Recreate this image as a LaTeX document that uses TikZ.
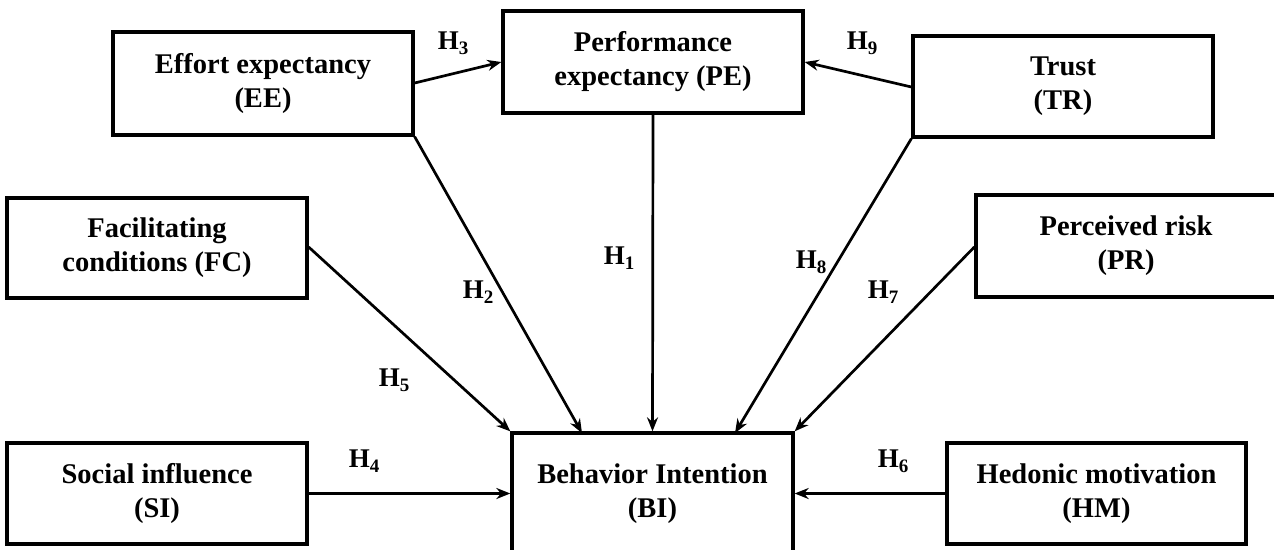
\documentclass[tikz,border=0pt]{standalone}
\usepackage{fontspec}
\setmainfont{Liberation Serif}
\usetikzlibrary{arrows.meta}
% hypothesis label: H with a lowered index
\newcommand{\hypo}[1]{H\raisebox{-5pt}{\fontsize{19}{19}\selectfont #1}}
\begin{document}
\begin{tikzpicture}[x=1pt,y=-1pt,
  construct/.style={draw, line width=3.3pt, rectangle, align=center, inner sep=0pt,
    font=\fontsize{28.5}{34}\selectfont\bfseries},
  path link/.style={line width=2.7pt, -{Stealth[length=14pt,width=11pt]}},
  hyp/.style={font=\fontsize{27}{30}\selectfont\bfseries, inner sep=0pt}]
\useasboundingbox (0,0) rectangle (1274,549);
\begin{scope}
\clip (0,0) rectangle (1274,549);
% constructs
\node[construct, minimum width=300pt, minimum height=103pt] (EE) at (263,83.5) {Effort expectancy\\(EE)};
\node[construct, minimum width=300pt, minimum height=102pt] (PE) at (653,62) {Performance\\expectancy (PE)};
\node[construct, minimum width=300pt, minimum height=101pt] (TR) at (1063,86.5) {Trust\\(TR)};
\node[construct, minimum width=300pt, minimum height=100pt] (FC) at (157,248) {Facilitating\\conditions (FC)};
\node[construct, minimum width=300pt, minimum height=102pt] (PR) at (1126,246) {Perceived risk\\(PR)};
\node[construct, minimum width=300pt, minimum height=101pt] (SI) at (157,493.5) {Social influence\\(SI)};
\node[construct, minimum width=281pt, minimum height=132pt] (BI) at (652.5,499) {};
\node[construct, minimum width=299pt, minimum height=101pt] (HM) at (1096.5,493.5) {Hedonic motivation\\(HM)};
\node[font=\fontsize{28.5}{34}\selectfont\bfseries, align=center] (BIt) at (652.5,494) {Behavior Intention\\(BI)};
\end{scope}
% connection points
\coordinate (EEr) at (EE.east |- 0,83);
\coordinate (PEl) at (PE.west |- 0,62);
\coordinate (PEr) at (PE.east |- 0,62);
\coordinate (TRl) at (TR.west |- 0,87);
\coordinate (FCr) at (FC.east |- 0,247);
\coordinate (PRl) at (PR.west |- 0,247);
\coordinate (BIh2) at (582,433);
\coordinate (BIh8) at (735,433);
\coordinate (BIh1) at (BI.north);
% hypothesised paths
\draw[path link] (EEr) -- (PEl);
\draw[path link] (TRl) -- (PEr);
\draw[path link] (PE.south) -- (BIh1);
\draw[path link] (EE.south east) -- (BIh2);
\draw[path link] (TR.south west) -- (BIh8);
\draw[path link] (FCr) -- (BI.north west);
\draw[path link] (PRl) -- (BI.north east);
\draw[path link] (SI.east) -- (SI.east -| BI.west);
\draw[path link] (HM.west) -- (HM.west -| BI.east);
% hypothesis labels
\node[hyp] (H3) at (453,43) {\hypo{3}};
\node[hyp] (H9) at (862,43) {\hypo{9}};
\node[hyp] (H1) at (619,258) {\hypo{1}};
\node[hyp] (H2) at (478,292) {\hypo{2}};
\node[hyp] (H8) at (811,262) {\hypo{8}};
\node[hyp] (H7) at (883,292) {\hypo{7}};
\node[hyp] (H5) at (394,380) {\hypo{5}};
\node[hyp] (H4) at (364,461) {\hypo{4}};
\node[hyp] (H6) at (893,461) {\hypo{6}};
\end{tikzpicture}
\end{document}
